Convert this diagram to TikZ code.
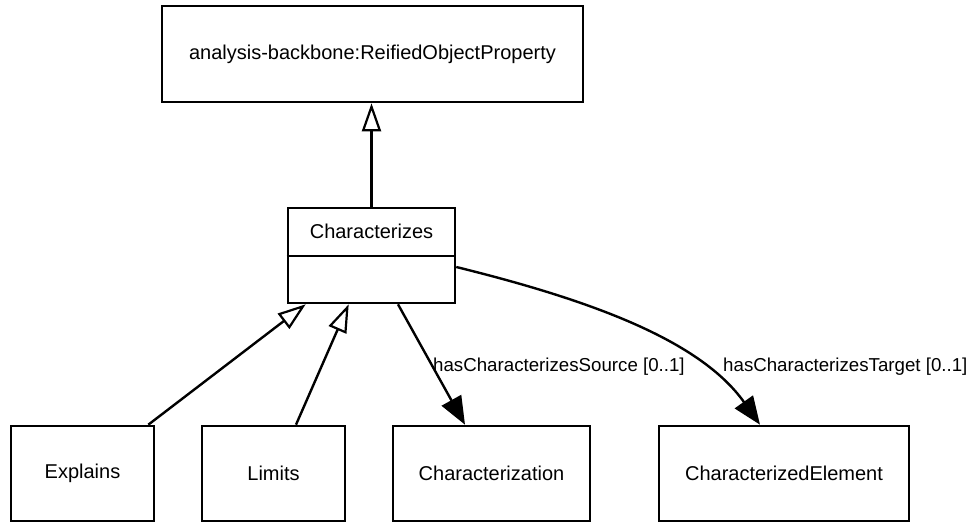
\documentclass[tikz,border=0pt]{standalone}
\usepackage{fontspec}
\setmainfont{Liberation Sans}
\usetikzlibrary{arrows.meta}
\begin{document}
\begin{tikzpicture}[x=1pt,y=-1pt,
  umlbox/.style={draw,line width=2.6pt,rectangle,inner sep=0pt,
    font=\fontsize{20}{24}\selectfont},
  conn/.style={line width=2.4pt},
  gen/.style={conn,-{Triangle[open,length=28pt,width=19pt,line width=2.2pt]}},
  assoc/.style={conn,-{Triangle[length=28pt,width=22pt]}},
  rolelabel/.style={inner sep=0pt,anchor=west,font=\fontsize{18.7}{22}\selectfont}]
\useasboundingbox (0,0) rectangle (970,523);

% classes
\node[umlbox,minimum width=421pt,minimum height=96pt] (rop) at (372.5,54)
  {analysis-backbone:ReifiedObjectProperty};
\node[umlbox,minimum width=167pt,minimum height=95pt] (chr) at (371.5,255.5) {};
\node[inner sep=0pt,font=\fontsize{20}{24}\selectfont] (chrname) at (371.5,231) {Characterizes};
\draw[line width=2.6pt] ([yshift=-0.5pt]chr.west) -- ([yshift=-0.5pt]chr.east);

\node[umlbox,minimum width=143pt,minimum height=95pt] (expl) at (82.5,473.5) {Explains};
\node[umlbox,minimum width=143pt,minimum height=95pt] (lim) at (273.5,473.5) {Limits};
\node[umlbox,minimum width=197pt,minimum height=95pt] (chz) at (491.5,473.5) {Characterization};
\node[umlbox,minimum width=250pt,minimum height=95pt] (cel) at (784,473.5) {CharacterizedElement};

% generalizations
\draw[gen] (chr.north) -- (chr.north |- rop.south);
\draw[gen] ([xshift=-7pt]expl.north east) -- ([xshift=19pt]chr.south west);
\draw[gen] ([xshift=22.5pt]lim.north) -- ([xshift=62pt]chr.south west);

% associations
\draw[assoc] ([xshift=26.5pt]chr.south) -- ([xshift=-26.5pt]chz.north);
\draw[assoc] ([yshift=-11.5pt]chr.east) .. controls (590,300) and (700,340) .. ([xshift=-24pt]cel.north);

% role labels
\node[rolelabel] (srclabel) at (433,367) {hasCharacterizesSource [0..1]};
\node[rolelabel] (tgtlabel) at (723,367) {hasCharacterizesTarget [0..1]};
\end{tikzpicture}
\end{document}
